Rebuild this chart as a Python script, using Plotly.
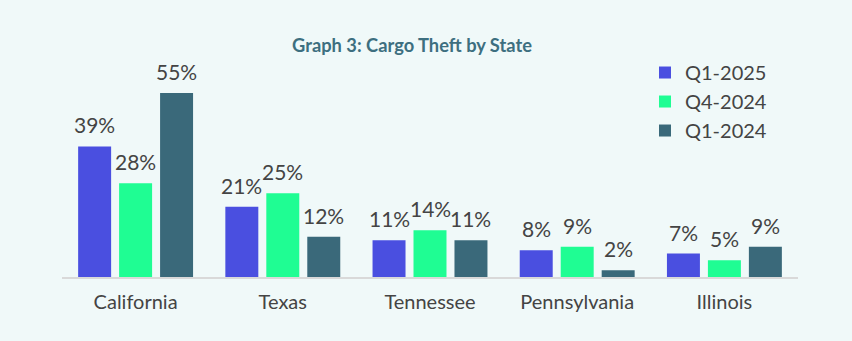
import plotly.graph_objects as go

states = ["California", "Texas", "Tennessee", "Pennsylvania", "Illinois"]
series_names = ["Q1-2025", "Q4-2024", "Q1-2024"]
q1_2025 = [39, 21, 11, 8, 7]
q4_2024 = [28, 25, 14, 9, 5]
q1_2024 = [55, 12, 11, 2, 9]
colors = ["#4a4fe0", "#1ffd93", "#3a697a"]

W, H = 852, 341
ml, mr, mt, mb = 62, 852 - 798, 60, 341 - 277.5
ph = 277.5 - 60
ymax = ph / 3.355
bargap, bargroupgap = 0.165, 0.195
cat_w = (798 - ml) / len(states)
slot = cat_w * (1 - bargap) / 3

fig = go.Figure()
all_vals = [q1_2025, q4_2024, q1_2024]
for i, (name, vals) in enumerate(zip(series_names, all_vals)):
    fig.add_trace(go.Bar(
        x=states, y=vals, name=name,
        marker=dict(color=colors[i], line=dict(width=0)),
        cliponaxis=False, legendgroup=name,
    ))
    for s, v in zip(states, vals):
        fig.add_annotation(
            x=s, y=v, xref="x", yref="y", text=f"{v}%", showarrow=False,
            xanchor="center", yanchor="bottom", xshift=(i - 1) * slot, yshift=7,
            font=dict(size=21, color="#444444", family="Lato"),
        )

fig.update_layout(
    width=W, height=H,
    margin=dict(l=ml, r=mr, t=mt, b=mb, pad=0),
    paper_bgcolor="#f0f9f9", plot_bgcolor="#f0f9f9",
    font=dict(family="Lato", color="#444444", size=20),
    title=dict(text="<b>Graph 3: Cargo Theft by State</b>", x=412 / W, xref="container",
               y=1 - 46 / H, yref="container", xanchor="center", yanchor="middle",
               font=dict(size=18.3, color="#3d6f80", family="Lato")),
    barmode="group", bargap=bargap, bargroupgap=bargroupgap,
    showlegend=True,
    legend=dict(x=(645 - ml) / (798 - ml), y=1 + (60 - 53) / ph,
                xanchor="left", yanchor="top", bgcolor="rgba(0,0,0,0)",
                font=dict(size=20, color="#444444", family="Lato"),
                tracegroupgap=4, traceorder="normal"),
    xaxis=dict(showgrid=False, showline=True, linecolor="#d9d9d9", linewidth=2,
               ticks="", tickfont=dict(size=20, color="#444444"), ticklabelstandoff=6),
    yaxis=dict(range=[0, ymax], visible=False, showgrid=False, zeroline=False),
)

fig.write_html("out.html")
